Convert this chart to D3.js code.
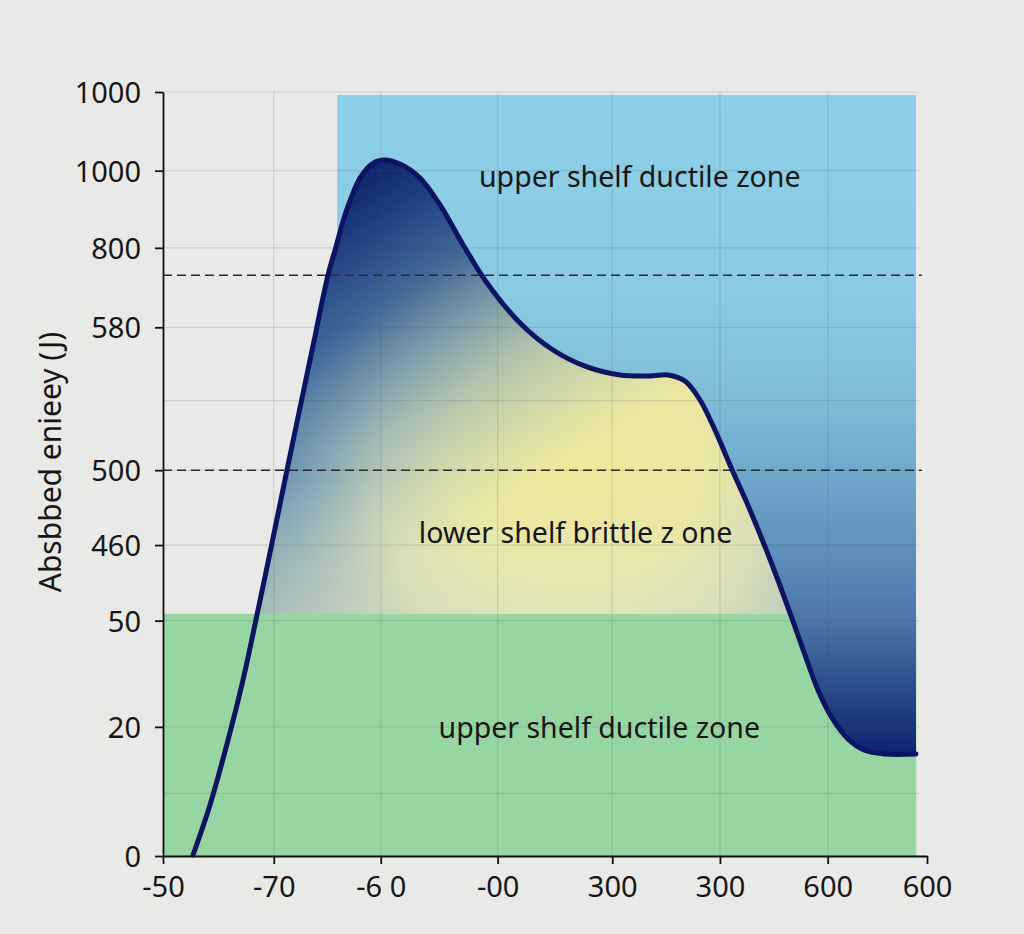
<!DOCTYPE html>
<html>
<head>
<meta charset="utf-8">
<script src="https://cdn.jsdelivr.net/npm/d3@7"></script>
<style>
  body { margin: 0; background: #e9e9e7; }
  svg { display: block; font-family: "Noto Sans", "Open Sans", sans-serif; }
</style>
</head>
<body>
<div id="chart"></div>
<script>
// tick labels as printed on the chart, placed on an abstract 0-100 scale
var xTickLabels = ["-50", "-70", "-6 0", "-00", "300", "300", "600", "600"];
var xTickPos    = [0, 14.5, 28.5, 43.8, 58.8, 72.9, 87.0, 100];
var yTickLabels = ["0", "20", "50", "460", "500", "580", "800", "1000", "1000"];
var yTickPos    = [0, 16.9, 30.8, 40.7, 50.5, 69.2, 79.6, 89.7, 100];
var yExtraGrid  = [8.2, 59.6];
var dashedLevels = [50.5, 76.0];

// zones: x0, x1, y0, y1
var upperZone = [22.8, 98.6, 31.7, 99.6];
var lowerZone = [0, 98.6, 0, 31.7];

// absorbed energy curve
var curveX = [3.93, 6.15, 8.51, 10.47, 12.30, 14.27, 16.23, 17.93, 19.63, 21.60, 22.64, 23.95, 25.79,
              27.36, 28.80, 31.02, 33.64, 36.26, 39.14, 42.41, 46.73, 51.05, 55.50, 59.82,
              63.74, 66.10, 68.32, 70.29, 72.25, 74.21, 76.83, 79.84, 82.07, 84.03, 85.73, 87.57,
              89.66, 91.75, 94.50, 98.56];
var curveY = [0.13, 6.68, 15.18, 23.04, 31.54, 40.97, 50.52, 58.64, 66.75, 76.05, 79.71, 84.29, 88.74,
              90.58, 91.10, 90.58, 88.74, 85.21, 80.24, 75.00, 69.76, 66.23, 64.01, 62.96,
              62.83, 62.96, 62.17, 59.69, 55.76, 51.18, 45.29, 37.83, 31.81, 26.31, 21.73, 18.06,
              15.31, 13.87, 13.35, 13.35];

var zoneLabels = [
  { text: "upper shelf ductile zone", x: 62.4, y: 87.6 },
  { text: "lower shelf brittle z one", x: 54.0, y: 41.0 },
  { text: "upper shelf ductile zone", x: 57.1, y: 15.5 }
];

var W = 1024, H = 934;
var margin = { top: 92, right: 97, bottom: 78, left: 163 };
var width = W - margin.left - margin.right,
    height = H - margin.top - margin.bottom;

var data = curveX.map(function(d, i) { return { x: d, y: curveY[i] }; });

var x = d3.scaleLinear().domain([0, 100]).range([0, width]);
var y = d3.scaleLinear().domain([0, 100]).range([height, 0]);

var svg = d3.select("#chart").append("svg")
  .attr("width", W).attr("height", H);

var defs = svg.append("defs");

function addStops(grad, stops) {
  stops.forEach(function(s) {
    grad.append("stop").attr("offset", s[0]).attr("stop-color", s[1])
      .attr("stop-opacity", s.length > 2 ? s[2] : 1);
  });
}

// blue zone, darkening downward
var gBlue = defs.append("linearGradient").attr("id", "gBlue")
  .attr("gradientUnits", "userSpaceOnUse")
  .attr("x1", 0).attr("y1", 3).attr("x2", 0).attr("y2", 663);
addStops(gBlue, [[0, "#8dcfe9"], [0.31, "#8acae5"], [0.46, "#80bcd9"], [0.57, "#71a9cc"],
                 [0.70, "#5d8db8"], [0.80, "#4b75a7"], [0.88, "#2f5491"], [1, "#0d2170"]]);

// yellow core of the area under the curve
var gCore = defs.append("radialGradient").attr("id", "gCore")
  .attr("gradientUnits", "userSpaceOnUse")
  .attr("cx", 410).attr("cy", 368).attr("r", 360);
addStops(gCore, [[0, "#efe99a"], [0.35, "#ece8a2"], [0.55, "#d8ddb2"], [0.8, "#8aa8b6"], [1, "#5a80a8"]]);

// blue shading coming from the peak
var gNavy = defs.append("linearGradient").attr("id", "gNavy")
  .attr("gradientUnits", "userSpaceOnUse")
  .attr("x1", 207).attr("y1", 78).attr("x2", 397).attr("y2", 378);
addStops(gNavy, [[0, "#0d2670", 1], [0.35, "#2a5590", 0.8], [0.65, "#5f8fb8", 0.45], [1, "#8ab8d0", 0]]);

// pale fade near the green zone
var gPale = defs.append("linearGradient").attr("id", "gPale")
  .attr("gradientUnits", "userSpaceOnUse")
  .attr("x1", 0).attr("y1", 388).attr("x2", 0).attr("y2", 522);
addStops(gPale, [[0, "#dfe4c0", 0], [1, "#dfe4c0", 0.55]]);

defs.append("clipPath").attr("id", "clipUpper").append("rect")
  .attr("x", x(upperZone[0])).attr("y", y(upperZone[3]))
  .attr("width", x(upperZone[1]) - x(upperZone[0])).attr("height", height - y(upperZone[3]));

defs.append("clipPath").attr("id", "clipUnder").append("rect")
  .attr("x", 0).attr("y", 0)
  .attr("width", width).attr("height", y(upperZone[2]));

var g = svg.append("g").attr("transform", "translate(" + margin.left + "," + margin.top + ")");

// green zone
g.append("rect")
  .attr("x", x(lowerZone[0])).attr("y", y(lowerZone[3]))
  .attr("width", x(lowerZone[1]) - x(lowerZone[0]))
  .attr("height", y(lowerZone[2]) - y(lowerZone[3]))
  .attr("fill", "#97d6a3");

var smooth = d3.curveCatmullRom.alpha(0.5);

// blue zone = everything above the curve inside the zone box
var aboveArea = d3.area()
  .x(function(d) { return x(d.x); })
  .y0(y(100))
  .y1(function(d) { return y(d.y); })
  .curve(smooth);

g.append("path")
  .attr("d", aboveArea(data))
  .attr("clip-path", "url(#clipUpper)")
  .attr("fill", "url(#gBlue)");

// area under the curve
var underArea = d3.area()
  .x(function(d) { return x(d.x); })
  .y0(y(0))
  .y1(function(d) { return y(d.y); })
  .curve(smooth);

["url(#gCore)", "url(#gNavy)", "url(#gPale)"].forEach(function(f) {
  g.append("path")
    .attr("d", underArea(data))
    .attr("clip-path", "url(#clipUnder)")
    .attr("fill", f);
});

// grid
var gridY = yTickPos.concat(yExtraGrid);
g.append("g").selectAll("line").data(gridY).enter().append("line")
  .attr("x1", 0).attr("x2", width - 8)
  .attr("y1", function(d) { return y(d); }).attr("y2", function(d) { return y(d); })
  .attr("stroke", "#505050").attr("stroke-opacity", 0.16).attr("stroke-width", 1.2);

g.append("g").selectAll("line").data(xTickPos.slice(1, -1)).enter().append("line")
  .attr("x1", function(d) { return x(d); }).attr("x2", function(d) { return x(d); })
  .attr("y1", 0).attr("y2", height)
  .attr("stroke", "#505050").attr("stroke-opacity", 0.16).attr("stroke-width", 1.2);

// dashed reference lines
g.append("g").selectAll("line").data(dashedLevels).enter().append("line")
  .attr("x1", 0).attr("x2", width - 5)
  .attr("y1", function(d) { return y(d); }).attr("y2", function(d) { return y(d); })
  .attr("stroke", "#2a2a2a").attr("stroke-width", 1.5)
  .attr("stroke-dasharray", "9,5");

// the curve
var curveLine = d3.line()
  .x(function(d) { return x(d.x); })
  .y(function(d) { return y(d.y); })
  .curve(smooth);

g.append("path")
  .attr("d", curveLine(data))
  .attr("fill", "none")
  .attr("stroke", "#0a1463")
  .attr("stroke-width", 5)
  .attr("stroke-linecap", "round")
  .attr("stroke-linejoin", "round");

// axes
var xAxis = g.append("g")
  .attr("transform", "translate(0," + height + ")")
  .call(d3.axisBottom(x).tickValues(xTickPos)
    .tickFormat(function(d, i) { return xTickLabels[i]; })
    .tickSize(8).tickPadding(12).tickSizeOuter(0));

var yAxis = g.append("g")
  .call(d3.axisLeft(y).tickValues(yTickPos)
    .tickFormat(function(d, i) { return yTickLabels[i]; })
    .tickSize(8).tickPadding(14).tickSizeOuter(0));

[xAxis, yAxis].forEach(function(a) {
  a.select(".domain").attr("stroke", "#111").attr("stroke-width", 1.8);
  a.selectAll(".tick line").attr("stroke", "#111").attr("stroke-width", 1.8);
  a.selectAll(".tick text")
    .attr("fill", "#161616")
    .style("font-size", "29px")
    .style("font-family", "'Noto Sans', sans-serif");
});
yAxis.selectAll(".tick text").attr("dy", "0.36em");

// zone labels
g.append("g").selectAll("text").data(zoneLabels).enter().append("text")
  .attr("x", function(d) { return x(d.x); })
  .attr("y", function(d) { return y(d.y); })
  .attr("text-anchor", "middle")
  .attr("fill", "#161616")
  .style("font-size", "28.5px")
  .text(function(d) { return d.text; });

// y axis title
svg.append("text")
  .attr("transform", "translate(61," + 462 + ") rotate(-90)")
  .attr("text-anchor", "middle")
  .attr("fill", "#161616")
  .style("font-size", "30px")
  .text("Absbbed enieey (J)");
</script>
</body>
</html>
